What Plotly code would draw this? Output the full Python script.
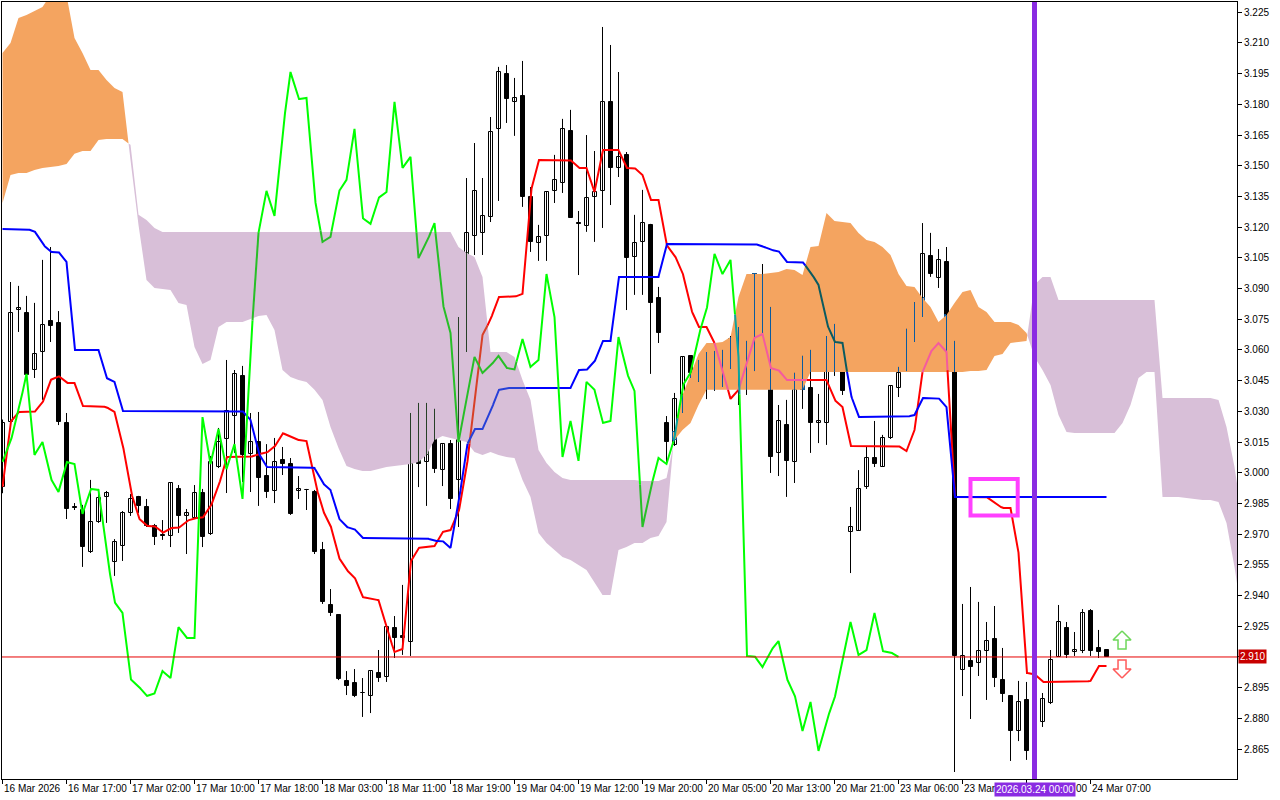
import numpy as np
import plotly.graph_objects as go

# ---------------- data (H1 bars) ----------------
tick_bars = [0, 8, 16, 24, 32, 40, 48, 56, 64, 72, 80, 88, 96, 104, 112, 120, 136]
tick_labels = ["16 Mar 2026", "16 Mar 17:00", "17 Mar 02:00", "17 Mar 10:00", "17 Mar 18:00",
               "18 Mar 03:00", "18 Mar 11:00", "18 Mar 19:00", "19 Mar 04:00", "19 Mar 12:00",
               "19 Mar 20:00", "20 Mar 05:00", "20 Mar 13:00", "20 Mar 21:00", "23 Mar 06:00",
               "23 Mar", "24 Mar 07:00"]
hidden_tick_bar = 128          # its label ("23 Mar 22:00") is covered by the time box, only "00" shows
price_ticks = [2.865, 2.880, 2.895, 2.910, 2.925, 2.940, 2.955, 2.970, 2.985, 3.000, 3.015, 3.030,
               3.045, 3.060, 3.075, 3.090, 3.105, 3.120, 3.135, 3.150, 3.165, 3.180, 3.195, 3.210, 3.225]
price_tick_labels = ["2.865", "2.880", "2.895", "", "2.925", "2.940", "2.955", "2.970", "2.985", "3.000",
                     "3.015", "3.030", "3.045", "3.060", "3.075", "3.090", "3.105", "3.120", "3.135",
                     "3.150", "3.165", "3.180", "3.195", "3.210", "3.225"]

opens = [
    2.9931, 3.0248, 3.0795, 3.0782, 3.0502, 3.0590, 3.0742, 3.0732, 3.0243, 2.9833,
    2.9818, 2.9613, 2.9759, 2.9882, 2.9564, 2.9642, 2.9803, 2.9882, 2.9833, 2.9740,
    2.9696, 2.9691, 2.9921, 2.9789, 2.9779, 2.9901, 2.9701, 3.0028, 3.0165, 3.0277,
    3.0473, 3.0092, 3.0150, 2.9984, 2.9911, 3.0062, 3.0043, 2.9911, 2.9916, 2.9906,
    2.9623, 2.9354, 2.9305, 2.8983, 2.8973, 2.8924, 2.8909, 2.9022, 2.9002, 2.9241,
    2.9203, 2.9173, 3.0272, 3.0053, 3.0224, 3.0013, 3.0140, 2.9965, 3.0639, 3.1157,
    3.1172, 3.1250, 3.1680, 3.1948, 3.1812, 3.1841, 3.1347, 3.1123, 3.1157, 3.1377,
    3.1416, 3.1670, 3.1220, 3.1206, 3.1347, 3.1377, 3.1812, 3.1489, 3.1553, 3.1054,
    3.1128, 3.1211, 3.0854, 3.0243, 3.0136, 3.0341, 3.0571, 3.0448, 3.0517, 3.0541,
    3.0509, 3.0512, 3.0673, 3.0541, 3.0531, 3.0942, 3.0751, 3.0097, 3.0233, 3.0053,
    3.0434, 3.0414, 3.0243, 3.0243, 3.0654, 3.0492, 2.9711, 2.9716, 2.9930, 3.0072,
    3.0028, 3.0170, 3.0414, 3.0497, 3.0683, 3.0800, 3.1059, 3.0952, 3.1030, 3.0571,
    2.9036, 2.9080, 2.9071, 2.9129, 2.9188, 2.8987, 2.8909, 2.8738, 2.8890, 2.8770,
    2.8782, 2.8875, 2.9100, 2.9242, 2.9124, 2.9129, 2.9325, 2.9144, 2.9134]
highs = [
    3.0260, 3.0932, 3.0913, 3.0864, 3.0830, 3.1040, 3.1103, 3.0790, 3.0292, 2.9852,
    2.9843, 2.9965, 2.9921, 2.9911, 2.9676, 2.9813, 2.9896, 2.9887, 2.9872, 2.9750,
    2.9769, 2.9950, 2.9940, 2.9823, 2.9940, 2.9921, 3.0082, 3.0219, 3.0551, 3.0502,
    3.0522, 3.0292, 3.0297, 3.0140, 3.0170, 3.0126, 3.0072, 2.9984, 2.9921, 2.9916,
    2.9662, 2.9432, 2.9305, 2.9031, 2.9041, 2.8997, 2.9031, 2.9134, 2.9246, 2.9300,
    2.9452, 3.0292, 3.0341, 3.0341, 3.0312, 3.0140, 3.0160, 3.0761, 3.1440, 3.1611,
    3.1440, 3.1738, 3.1983, 3.1992, 3.1929, 3.2012, 3.1396, 3.1211, 3.1372, 3.1553,
    3.1729, 3.1773, 3.1279, 3.1650, 3.1572, 3.2178, 3.2090, 3.1958, 3.1567, 3.1260,
    3.1382, 3.1216, 3.0908, 3.0277, 3.0390, 3.0566, 3.0575, 3.0551, 3.0590, 3.0595,
    3.0600, 3.0668, 3.0712, 3.0644, 3.0971, 3.1020, 3.0810, 3.0331, 3.0356, 3.0488,
    3.0571, 3.0600, 3.0385, 3.0668, 3.0727, 3.0492, 2.9833, 3.0013, 3.0126, 3.0253,
    3.0185, 3.0424, 3.0517, 3.0703, 3.0834, 3.1220, 3.1172, 3.1093, 3.1103, 3.0644,
    2.9359, 2.9442, 2.9369, 2.9271, 2.9349, 2.9144, 2.8914, 2.8983, 2.8978, 2.8830,
    2.8924, 2.9134, 2.9354, 2.9271, 2.9222, 2.9334, 2.9334, 2.9232, 2.9134]
lows = [
    2.9900, 3.0219, 3.0688, 3.0463, 3.0463, 3.0356, 3.0639, 3.0233, 2.9774, 2.9818,
    2.9540, 2.9608, 2.9755, 2.9755, 2.9496, 2.9569, 2.9789, 2.9803, 2.9735, 2.9647,
    2.9672, 2.9637, 2.9706, 2.9603, 2.9774, 2.9637, 2.9696, 3.0023, 2.9901, 3.0097,
    2.9955, 2.9906, 2.9838, 2.9877, 2.9852, 2.9989, 2.9794, 2.9872, 2.9818, 2.9603,
    2.9359, 2.9300, 2.8987, 2.8914, 2.8904, 2.8807, 2.8826, 2.8978, 2.8978, 2.9095,
    2.9110, 2.9105, 2.9930, 2.9838, 2.9999, 2.9935, 2.9823, 2.9735, 3.0590, 3.1064,
    3.1064, 3.1225, 3.1328, 3.1709, 3.1646, 3.1299, 3.1079, 3.1035, 3.1035, 3.1318,
    3.1367, 3.1245, 3.0966, 3.1177, 3.1128, 3.1196, 3.1308, 3.1445, 3.0795, 3.0869,
    3.0869, 3.0483, 3.0634, 3.0053, 3.0131, 3.0292, 3.0463, 3.0444, 3.0360, 3.0400,
    3.0419, 3.0507, 3.0331, 3.0380, 3.0497, 3.0683, 2.9999, 2.9984, 2.9882, 2.9950,
    3.0312, 3.0097, 3.0145, 3.0136, 3.0473, 3.0380, 2.9510, 2.9716, 2.9921, 3.0028,
    3.0028, 3.0165, 3.0370, 3.0497, 3.0639, 3.0761, 3.0957, 3.0903, 3.0561, 2.8538,
    2.8909, 2.8797, 2.9007, 2.8890, 2.8953, 2.8880, 2.8592, 2.8689, 2.8597, 2.8760,
    2.8758, 2.8870, 2.9100, 2.9095, 2.9105, 2.9119, 2.9105, 2.9095, 2.9100]
closes = [
    3.0243, 3.0781, 3.0805, 3.0478, 3.0580, 3.0722, 3.0717, 3.0248, 2.9823, 2.9830,
    2.9637, 2.9759, 2.9877, 2.9901, 2.9662, 2.9803, 2.9872, 2.9838, 2.9740, 2.9686,
    2.9691, 2.9950, 2.9789, 2.9803, 2.9901, 2.9686, 3.0053, 3.0150, 3.0302, 3.0483,
    3.0087, 3.0150, 2.9974, 2.9906, 3.0053, 3.0043, 2.9799, 2.9921, 2.9916, 2.9613,
    2.9369, 2.9315, 2.8992, 2.8958, 2.8909, 2.8922, 2.9031, 2.8997, 2.9246, 2.9193,
    2.9193, 3.0272, 3.0043, 3.0214, 3.0018, 3.0140, 2.9872, 3.0600, 3.1172, 3.1377,
    3.1255, 3.1665, 3.1958, 3.1826, 3.1831, 3.1347, 3.1128, 3.1152, 3.1372, 3.1431,
    3.1680, 3.1245, 3.1216, 3.1343, 3.1372, 3.1812, 3.1489, 3.1543, 3.1049, 3.1123,
    3.1220, 3.0830, 3.0683, 3.0150, 3.0360, 3.0566, 3.0488, 3.0522, 3.0571, 3.0512,
    3.0505, 3.0654, 3.0517, 3.0551, 3.0971, 3.0761, 3.0077, 3.0253, 3.0058, 3.0444,
    3.0405, 3.0243, 3.0253, 3.0663, 3.0492, 3.0400, 2.9735, 2.9921, 3.0072, 3.0043,
    3.0170, 3.0424, 3.0488, 3.0673, 3.0790, 3.1069, 3.0971, 3.1040, 3.0566, 2.9105,
    2.9105, 2.9051, 2.9129, 2.9178, 2.8997, 2.8919, 2.8738, 2.8880, 2.8641, 2.8790,
    2.8895, 2.9085, 2.9271, 2.9110, 2.9134, 2.9315, 2.9129, 2.9124, 2.9100]

tenkan = [
    2.9931, 3.0248, 3.0297, 3.0297, 3.0297, 3.0341, 3.0453, 3.0473, 3.0439, 3.0439,
    3.0326, 3.0326, 3.0326, 3.0321, 3.0297, 3.0146, 2.9916, 2.9779, 2.9740, 2.9740,
    2.9706, 2.9730, 2.9730, 2.9764, 2.9779, 2.9779, 2.9833, 2.9931, 3.0077, 3.0077,
    3.0077, 3.0077, 3.0092, 3.0097, 3.0126, 3.0194, 3.0175, 3.0160, 3.0155, 2.9965,
    2.9818, 2.9745, 2.9589, 2.9525, 2.9491, 2.9393, 2.9383, 2.9378, 2.9242, 2.9124,
    2.9139, 2.9564, 2.9633, 2.9637, 2.9642, 2.9711, 2.9720, 2.9804, 3.0014, 3.0356,
    3.0673, 3.0747, 3.0859, 3.0859, 3.0859, 3.0874, 3.1367, 3.1528, 3.1528, 3.1528,
    3.1528, 3.1528, 3.1489, 3.1489, 3.1372, 3.1577, 3.1577, 3.1577, 3.1489, 3.1489,
    3.1455, 3.1333, 3.1333, 3.1113, 3.1064, 3.0981, 3.0805, 3.0712, 3.0712, 3.0634,
    3.0502, 3.0361, 3.0405, 3.0536, 3.0659, 3.0678, 3.0512, 3.0502, 3.0453, 3.0453,
    3.0453, 3.0453, 3.0453, 3.0453, 3.0356, 3.0321, 3.0131, 3.0131, 3.0131, 3.0131,
    3.0131, 3.0131, 3.0131, 3.0106, 3.0209, 3.0492, 3.0590, 3.0634, 3.0590, 2.9882,
    2.9882, 2.9882, 2.9882, 2.9882, 2.9852, 2.9828, 2.9828, 2.9610, 2.9022, 2.9017,
    2.8978, 2.8978, 2.8978, 2.8978, 2.8978, 2.8978, 2.8983, 2.9056, 2.9056]
kijun = [
    3.1191, 3.1191, 3.1191, 3.1191, 3.1181, 3.1118, 3.1079, 3.1079, 3.1030, 3.0600,
    3.0600, 3.0600, 3.0600, 3.0463, 3.0444, 3.0302, 3.0302, 3.0302, 3.0302, 3.0302,
    3.0302, 3.0302, 3.0302, 3.0302, 3.0302, 3.0302, 3.0302, 3.0302, 3.0302, 3.0302,
    3.0302, 3.0258, 3.0097, 3.0028, 3.0028, 3.0028, 3.0028, 3.0028, 3.0028, 3.0023,
    2.9950, 2.9916, 2.9779, 2.9735, 2.9725, 2.9681, 2.9681, 2.9681, 2.9681, 2.9681,
    2.9681, 2.9681, 2.9681, 2.9681, 2.9667, 2.9667, 2.9633, 2.9843, 3.0131, 3.0214,
    3.0214, 3.0297, 3.0405, 3.0414, 3.0414, 3.0414, 3.0414, 3.0414, 3.0414, 3.0414,
    3.0414, 3.0414, 3.0502, 3.0502, 3.0541, 3.0644, 3.0644, 3.0957, 3.0957, 3.0957,
    3.0957, 3.0957, 3.0957, 3.1118, 3.1118, 3.1118, 3.1118, 3.1118, 3.1118, 3.1118,
    3.1118, 3.1118, 3.1118, 3.1118, 3.1118, 3.1108, 3.1089, 3.1084, 3.1030, 3.1030,
    3.1030, 3.0981, 3.0918, 3.0732, 3.0639, 3.0634, 3.0385, 3.0273, 3.0273, 3.0273,
    3.0273, 3.0273, 3.0273, 3.0273, 3.0282, 3.0365, 3.0365, 3.0365, 3.0321, 2.9882,
    2.9882, 2.9882, 2.9882, 2.9882, 2.9882, 2.9882, 2.9882, 2.9882, 2.9882, 2.9882,
    2.9882, 2.9882, 2.9882, 2.9882, 2.9882, 2.9882, 2.9882, 2.9882, 2.9882]
span_a = [
    3.2051, 3.2100, 3.2222, 3.2237, 3.2256, 3.2276, 3.2334, 3.2334, 3.2334, 3.2124,
    3.2051, 3.1968, 3.1968, 3.1919, 3.1880, 3.1860, 3.1528, 3.1211, 3.0942, 3.0903,
    3.0898, 3.0893, 3.0830, 3.0820, 3.0615, 3.0531, 3.0551, 3.0712, 3.0737, 3.0737,
    3.0737, 3.0751, 3.0766, 3.0771, 3.0698, 3.0502, 3.0468, 3.0453, 3.0444, 3.0405,
    3.0356, 3.0224, 3.0121, 3.0033, 3.0018, 3.0009, 3.0009, 3.0018, 3.0028, 3.0033,
    3.0038, 3.0043, 3.0053, 3.0087, 3.0160, 3.0180, 3.0170, 3.0160, 3.0150, 3.0102,
    3.0087, 3.0102, 3.0087, 3.0077, 3.0072, 2.9965, 2.9882, 2.9706, 2.9657, 2.9623,
    2.9589, 2.9574, 2.9549, 2.9525, 2.9466, 2.9403, 2.9403, 2.9623, 2.9637, 2.9657,
    2.9657, 2.9681, 2.9691, 2.9760, 3.0200, 3.0380, 3.0480, 3.0580, 3.0634, 3.0634,
    3.0639, 3.0663, 3.0859, 3.0971, 3.0971, 3.0971, 3.0976, 3.0981, 3.0996, 3.0991,
    3.0966, 3.1103, 3.1108, 3.1269, 3.1230, 3.1225, 3.1220, 3.1172, 3.1137, 3.1128,
    3.1103, 3.1064, 3.0971, 3.0913, 3.0908, 3.0854, 3.0810, 3.0737, 3.0771, 3.0830,
    3.0883, 3.0893, 3.0810, 3.0786, 3.0737, 3.0737, 3.0737, 3.0722, 3.0683, 3.0566,
    3.0502, 3.0429, 3.0282, 3.0199, 3.0194, 3.0194, 3.0194, 3.0194, 3.0194, 3.0194,
    3.0243, 3.0331, 3.0463, 3.0492, 3.0492, 2.9882, 2.9882, 2.9882, 2.9877, 2.9872,
    2.9867, 2.9867, 2.9857, 2.9755, 2.9540, 2.9281]
span_b = [
    3.1318, 3.1455, 3.1465, 3.1465, 3.1479, 3.1489, 3.1494, 3.1499, 3.1509, 3.1558,
    3.1572, 3.1572, 3.1626, 3.1631, 3.1631, 3.1631, 3.1602, 3.1260, 3.1235, 3.1196,
    3.1176, 3.1176, 3.1176, 3.1176, 3.1176, 3.1176, 3.1176, 3.1176, 3.1176, 3.1176,
    3.1176, 3.1176, 3.1176, 3.1176, 3.1176, 3.1176, 3.1176, 3.1176, 3.1176, 3.1176,
    3.1176, 3.1176, 3.1176, 3.1176, 3.1176, 3.1176, 3.1176, 3.1176, 3.1176, 3.1176,
    3.1176, 3.1176, 3.1176, 3.1176, 3.1176, 3.1176, 3.1176, 3.1103, 3.1074, 3.1054,
    3.0957, 3.0590, 3.0590, 3.0590, 3.0566, 3.0453, 3.0356, 3.0111, 3.0048, 3.0004,
    2.9974, 2.9965, 2.9965, 2.9965, 2.9965, 2.9965, 2.9965, 2.9965, 2.9965, 2.9965,
    2.9960, 2.9960, 2.9960, 2.9974, 3.0160, 3.0209, 3.0243, 3.0331, 3.0405, 3.0405,
    3.0405, 3.0405, 3.0405, 3.0405, 3.0405, 3.0405, 3.0405, 3.0405, 3.0405, 3.0405,
    3.0405, 3.0492, 3.0492, 3.0492, 3.0492, 3.0492, 3.0492, 3.0492, 3.0492, 3.0492,
    3.0492, 3.0492, 3.0492, 3.0492, 3.0492, 3.0492, 3.0492, 3.0492, 3.0492, 3.0492,
    3.0492, 3.0497, 3.0497, 3.0502, 3.0571, 3.0580, 3.0634, 3.0639, 3.0644, 3.0918,
    3.0957, 3.0957, 3.0844, 3.0844, 3.0844, 3.0844, 3.0844, 3.0844, 3.0844, 3.0844,
    3.0844, 3.0844, 3.0844, 3.0844, 3.0844, 3.0365, 3.0365, 3.0365, 3.0365, 3.0365,
    3.0365, 3.0365, 3.0356, 3.0224, 3.0028, 2.9769]
chikou = closes[26:]          # lagging span = close plotted 26 bars back
current_price = 2.910
marker_bar = 129
marker_label = "2026.03.24 00:00"
box_bars = (121.0, 126.9)     # highlighted rectangle (bar range)
box_prices = (2.9791, 2.9970)

# ---------------- geometry / styles ----------------
W, H = 1280, 800
PL, PR, PT, PB = 2, 1237, 2, 779          # plot area in px
BAR_PX, BAR0_PX = 8.0, 2.5
X_RANGE = [(PL - BAR0_PX) / BAR_PX, (PR - BAR0_PX) / BAR_PX]
Y_RANGE = [2.85038, 3.2300]
FONT = "Liberation Sans, Arial, sans-serif"

ORANGE = (244, 164, 96)
THISTLE = (216, 191, 216)
BLACK, WHITE = (0, 0, 0), (255, 255, 255)
RED, BLUE, LIME = (255, 0, 0), (0, 0, 255), (0, 255, 0)


def rgb(c):
    return "rgb(%d,%d,%d)" % c


def xr(p, f):
    """colour a pixel of colour p takes when the cloud (colour f) is xor-filled over it"""
    return tuple(f[i] ^ (255 - p[i]) for i in range(3))


def px_dx(px):
    return px / BAR_PX


def px_dy(py):
    return py * (Y_RANGE[1] - Y_RANGE[0]) / (PB - PT)


fig = go.Figure()

# ---------------- Kumo cloud ----------------
A = np.array(span_a)
B = np.array(span_b)
pts = []
for i in range(len(A)):
    pts.append((float(i), A[i], B[i]))
    if i < len(A) - 1:
        d0, d1 = A[i] - B[i], A[i + 1] - B[i + 1]
        if d0 * d1 < 0:
            t = d0 / (d0 - d1)
            yc = A[i] + t * (A[i + 1] - A[i])
            pts.append((i + t, yc, yc))
runs, cur, cur_s = [], [pts[0]], np.sign(pts[0][1] - pts[0][2])
for p in pts[1:]:
    s = np.sign(p[1] - p[2])
    cur.append(p)
    if s == 0:
        runs.append((cur_s, cur))
        cur, cur_s = [p], 0
    elif cur_s == 0:
        cur_s = s
runs.append((cur_s, cur))
for s, run in runs:
    if len(run) < 2:
        continue
    xs = [q[0] for q in run] + [q[0] for q in run[::-1]]
    ys = [max(q[1], q[2]) for q in run] + [min(q[1], q[2]) for q in run[::-1]]
    fig.add_trace(go.Scatter(x=xs, y=ys, mode="lines", fill="toself", line=dict(width=0),
                             fillcolor=rgb(ORANGE if s > 0 else THISTLE),
                             hoverinfo="skip", showlegend=False))


def cloud_at(k):
    lo, hi = min(A[k], B[k]), max(A[k], B[k])
    return lo, hi, (ORANGE if A[k] > B[k] else THISTLE)


# ---------------- candles ----------------
n = len(closes)
wx, wy = [], []
wt = {ORANGE: ([], []), THISTLE: ([], [])}
for k in range(n):
    wx += [k, k, None]
    wy += [lows[k], highs[k], None]
    lo, hi, col = cloud_at(k)
    a, b = max(lows[k], lo), min(highs[k], hi)
    if b > a:
        wt[col][0].extend([k, k, None])
        wt[col][1].extend([a, b, None])
fig.add_trace(go.Scatter(x=wx, y=wy, mode="lines", line=dict(color="black", width=1),
                         hoverinfo="skip", showlegend=False))
for col, (xx, yy) in wt.items():
    if xx:
        fig.add_trace(go.Scatter(x=xx, y=yy, mode="lines", line=dict(color=rgb(xr(BLACK, col)), width=1),
                                 hoverinfo="skip", showlegend=False))

MINH = 0.00008
BODY_W = 0.5
for bull in (True, False):
    idx = [k for k in range(n) if (closes[k] >= opens[k]) == bull]
    fig.add_trace(go.Bar(
        x=idx, base=[min(opens[k], closes[k]) for k in idx],
        y=[max(abs(closes[k] - opens[k]), MINH) for k in idx], width=BODY_W,
        marker=dict(color="white" if bull else "black", line=dict(color="black", width=1)),
        hoverinfo="skip", showlegend=False))

# parts of bodies covered by the cloud (xor look)
for col in (ORANGE, THISTLE):
    for bull in (True, False):
        bx, bb, bh = [], [], []
        for k in range(n):
            if (closes[k] >= opens[k]) != bull:
                continue
            lo, hi, c = cloud_at(k)
            if c != col:
                continue
            bot, top = min(opens[k], closes[k]), max(opens[k], closes[k]) + MINH
            a, b = max(bot, lo), min(top, hi)
            if b > a:
                bx.append(k); bb.append(a); bh.append(b - a)
        if bx:
            fill = col if bull else xr(BLACK, col)
            fig.add_trace(go.Bar(x=bx, base=bb, y=bh, width=BODY_W,
                                 marker=dict(color=rgb(fill), line=dict(color=rgb(xr(BLACK, col)), width=1)),
                                 hoverinfo="skip", showlegend=False))


# ---------------- Ichimoku lines ----------------
def add_line(xv, yv, base, width=2, sub=16):
    ax = np.arange(len(A))
    runs_, cur_c, cx, cy = [], None, [], []
    for i in range(len(xv) - 1):
        for j in range(sub):
            t0, t1 = j / sub, (j + 1) / sub
            x0 = xv[i] + (xv[i + 1] - xv[i]) * t0
            x1 = xv[i] + (xv[i + 1] - xv[i]) * t1
            y0 = yv[i] + (yv[i + 1] - yv[i]) * t0
            y1 = yv[i] + (yv[i + 1] - yv[i]) * t1
            xm, ym = (x0 + x1) / 2, (y0 + y1) / 2
            am, bm = np.interp(xm, ax, A), np.interp(xm, ax, B)
            if min(am, bm) <= ym <= max(am, bm):
                c = 1 if am > bm else 2
            else:
                c = 0
            if c != cur_c:
                if cur_c is not None:
                    runs_.append((cur_c, cx, cy))
                cur_c, cx, cy = c, [x0], [y0]
            cx.append(x1); cy.append(y1)
    runs_.append((cur_c, cx, cy))
    cols = {0: base, 1: xr(base, ORANGE), 2: xr(base, THISTLE)}
    for c in (0, 1, 2):
        xx, yy = [], []
        for cc, cx, cy in runs_:
            if cc == c:
                xx += cx + [None]; yy += cy + [None]
        if xx:
            fig.add_trace(go.Scatter(x=xx, y=yy, mode="lines", line=dict(color=rgb(cols[c]), width=width),
                                     hoverinfo="skip", showlegend=False))


add_line(list(range(n)), tenkan, RED)
add_line(list(range(n)), kijun, BLUE)
add_line(list(range(len(chikou))), chikou, LIME)

# ---------------- arrows (chart objects) ----------------
arrow_bar = 139.94
up_price, dn_price = 2.9183, 2.9041
up_shape = [(0, -9), (9, 0), (4, 0), (4, 9), (-4, 9), (-4, 0), (-9, 0), (0, -9)]
for price, sign, colr in ((up_price, 1, "rgb(110,215,90)"), (dn_price, -1, "rgb(255,90,90)")):
    ax_ = [arrow_bar + px_dx(dx) for dx, dy in up_shape]
    ay_ = [price - sign * px_dy(dy) for dx, dy in up_shape]
    fig.add_trace(go.Scatter(x=ax_, y=ay_, mode="lines", line=dict(color=colr, width=1.5),
                             hoverinfo="skip", showlegend=False))

# ---------------- shapes ----------------
shapes = [
    dict(type="line", xref="paper", x0=0, x1=1, yref="y", y0=current_price, y1=current_price,
         line=dict(color="rgb(230,0,0)", width=1)),
    dict(type="rect", xref="x", yref="y", x0=box_bars[0], x1=box_bars[1], y0=box_prices[0], y1=box_prices[1],
         line=dict(color="rgb(255,64,255)", width=4)),
    dict(type="line", xref="x", x0=marker_bar, x1=marker_bar, yref="paper", y0=0, y1=1,
         line=dict(color="rgb(138,43,226)", width=5)),
    dict(type="line", xref="x", x0=hidden_tick_bar, x1=hidden_tick_bar, yref="paper", y0=0, y1=0,
         line=dict(width=0)),
]

annotations = []
for b, t in zip(tick_bars, tick_labels):
    annotations.append(dict(x=b, y=0, xref="x", yref="paper", text=t, showarrow=False,
                            xanchor="left", yanchor="top", yshift=-2, xshift=-1,
                            font=dict(family=FONT, size=10, color="black")))
annotations.append(dict(x=1, y=current_price, xref="paper", yref="y", text="2.910", showarrow=False,
                        xanchor="left", yanchor="middle", xshift=1, bgcolor="rgb(200,0,0)", borderpad=1,
                        font=dict(family=FONT, size=10, color="white")))
annotations.append(dict(x=marker_bar, y=0, xref="x", yref="paper", text=marker_label, showarrow=False,
                        xanchor="center", yanchor="top", yshift=-3, bgcolor="rgb(138,43,226)", borderpad=1,
                        font=dict(family=FONT, size=10, color="white")))
# tail of the covered "23 Mar 22:00" label, visible right of the time box
annotations.append(dict(x=marker_bar, y=0, xref="x", yref="paper", text="00", showarrow=False,
                        xanchor="left", yanchor="top", yshift=-2, xshift=39,
                        font=dict(family=FONT, size=10, color="black")))

fig.update_layout(
    width=W, height=H, margin=dict(l=PL, r=W - PR, t=PT, b=H - PB, pad=0),
    paper_bgcolor="white", plot_bgcolor="white", barmode="overlay", bargap=0,
    shapes=shapes, annotations=annotations, showlegend=False, hovermode=False,
    xaxis=dict(range=X_RANGE, showgrid=False, zeroline=False, tickvals=tick_bars + [hidden_tick_bar],
               ticks="outside", ticklen=4, tickcolor="black", showticklabels=False, showline=True,
               mirror=True, linecolor="black", linewidth=1, fixedrange=True),
    yaxis=dict(range=Y_RANGE, side="right", showgrid=False, zeroline=False, tickvals=price_ticks,
               ticktext=price_tick_labels, ticks="outside", ticklen=4, tickcolor="black",
               tickfont=dict(family=FONT, size=10, color="black"), showline=True, mirror=True,
               linecolor="black", linewidth=1, fixedrange=True),
)

fig.write_html("out.html", config={"displayModeBar": False},
               post_script="document.body.style.margin='0px';document.body.style.overflow='hidden';")
